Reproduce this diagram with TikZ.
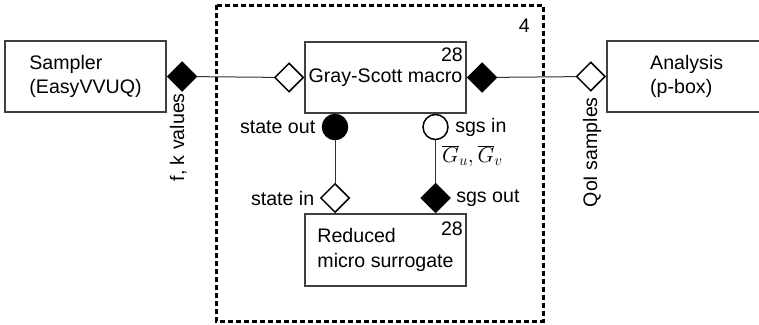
\documentclass[tikz,border=0pt]{standalone}
\usepackage{fontspec}
\setmainfont{Liberation Sans}
\usetikzlibrary{shapes.geometric,positioning}

\begin{document}
\begin{tikzpicture}[x=1pt,y=-1pt,line cap=round,font=\fontsize{19.6}{24.5}\selectfont,
  block/.style={draw=black!75,line width=1.5pt,minimum width=161pt,minimum height=71pt,inner sep=0pt},
  portfull/.style={diamond,draw=black,fill=black,line width=1.5pt,minimum width=29pt,minimum height=29pt,inner sep=0pt},
  portopen/.style={portfull,fill=white},
  sockfull/.style={circle,draw=black,fill=black,line width=1.5pt,minimum size=25pt,inner sep=0pt},
  sockopen/.style={sockfull,fill=white},
  wire/.style={line width=1pt,black!80}]
\useasboundingbox (0,0) rectangle (759,324);
\draw[line width=3pt,line cap=butt,dash pattern=on 5pt off 3pt] (216,5) rectangle (543,321);
\node[anchor=base east,inner sep=0pt] (count) at (530,32) {4};
\node[block,align=left] (sampler) at (85.5,76.5) {Sampler\\(EasyVVUQ)};
\node[block] (macro) at (385.5,77.5) {Gray-Scott macro};
\node[anchor=base east,inner sep=0pt] (macroCount) at (463,61) {28};
\node[block,align=left,minimum height=72pt] (surrogate) at (385.5,250) {Reduced\\micro surrogate};
\node[anchor=base east,inner sep=0pt] (surrogateCount) at (463,235) {28};
\node[block,anchor=west,minimum width=170pt] (analysis) at (606,76.5) {};
\node[anchor=west,align=left,inner sep=0pt] (analysisText) at (650,76.5) {Analysis\\(p-box)};
\node[portfull,anchor=west] (samplerOut) at (sampler.east) {};
\node[portopen,anchor=east] (macroIn) at (macro.west) {};
\node[portfull,anchor=west] (macroOut) at (macro.east) {};
\node[portopen,anchor=east] (analysisIn) at (analysis.west) {};
\node[sockfull,anchor=north] (stateOut) at ([xshift=-50.5pt]macro.south) {};
\node[sockopen,anchor=north] (sgsIn) at ([xshift=50pt]macro.south) {};
\node[portopen,anchor=south] (stateIn) at ([xshift=-50.5pt]surrogate.north) {};
\node[portfull,anchor=south] (sgsOut) at ([xshift=50pt]surrogate.north) {};
\draw[wire] (samplerOut) -- (macroIn);
\draw[wire] (macroOut) -- (analysisIn);
\draw[wire] (stateOut) -- (stateIn);
\draw[wire] (sgsIn) -- (sgsOut);
\node[left=3pt of stateOut] (stateOutLabel) {state out};
\node[right=3pt of sgsIn] (sgsInLabel) {sgs in};
\node[left=2pt of stateIn] (stateInLabel) {state in};
\node[right=2pt of sgsOut] (sgsOutLabel) {sgs out};
\node[anchor=west,inner sep=0pt,scale=1.05] (sgsValue) at (442,156) {$\overline{G}_u,\overline{G}_v$};
\node[rotate=90,anchor=base east,inner sep=0pt] (fkLabel) at (184,93) {f, k values};
\node[rotate=90,anchor=base east,inner sep=0pt] (qoiLabel) at (597,97) {QoI samples};
\end{tikzpicture}
\end{document}
